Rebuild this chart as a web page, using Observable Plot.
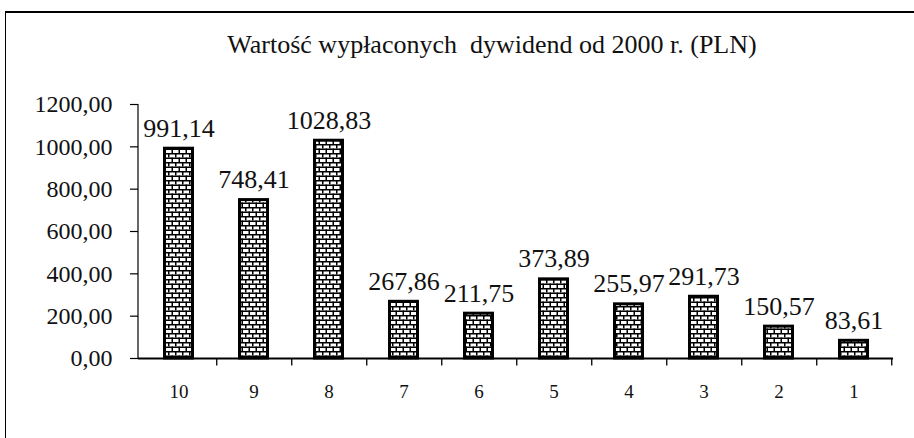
<!DOCTYPE html>
<html>
<head>
<meta charset="utf-8">
<script src="https://cdn.jsdelivr.net/npm/d3@7"></script>
<script src="https://cdn.jsdelivr.net/npm/@observablehq/plot@0.6"></script>
<style>
  html, body { margin: 0; padding: 0; background: #fff; }
  #wrap { position: relative; width: 914px; height: 438px; overflow: hidden; font-family: "Liberation Serif", "Times New Roman", serif; }
  #frame { position: absolute; left: 5px; top: 11px; width: 920px; height: 440px; border-top: 2px solid #000; border-left: 1px solid #000; }
  #title { position: absolute; left: 0; width: 984px; top: 30px; text-align: center; font-size: 26px; color: #111; white-space: pre; }
  #chart { position: absolute; left: 0; top: 0; }
</style>
</head>
<body>
<div id="wrap">
  <div id="frame"></div>
  <div id="title">Wartość wypłaconych  dywidend od 2000 r. (PLN)</div>
  <div id="chart"></div>
</div>
<script>
const categories = ["10", "9", "8", "7", "6", "5", "4", "3", "2", "1"];
const values = [991.14, 748.41, 1028.83, 267.86, 211.75, 373.89, 255.97, 291.73, 150.57, 83.61];
const yTicks = [0, 200, 400, 600, 800, 1000, 1200];

const data = categories.map((c, i) => ({cat: c, value: values[i]}));
const fmt = v => v.toFixed(2).replace(".", ",");

const W = 914, H = 438, mL = 138, mR = 21, mT = 104, mB = 80;
const step = (W - mL - mR) / categories.length;

const chart = Plot.plot({
  width: W,
  height: H,
  marginLeft: mL,
  marginRight: mR,
  marginTop: mT,
  marginBottom: mB,
  style: {fontFamily: "'Liberation Serif', 'Times New Roman', serif", background: "transparent", color: "#111"},
  x: {domain: categories, paddingInner: 0.59, paddingOuter: 0.295, label: null, axis: null},
  y: {domain: [0, 1200], label: null, axis: null},
  marks: [
    Plot.barY(data, {x: "cat", y: "value", fill: "url(#brick)", stroke: "#000", strokeWidth: 3, insetLeft: 1.5, insetRight: 1.5}),
    Plot.axisY({ticks: yTicks, tickFormat: fmt, tickSize: 8, tickPadding: 18, fontSize: 24, label: null, stroke: "#000", strokeWidth: 1.2}),
    Plot.axisX({tickSize: 0, tickPadding: 26, fontSize: 19, label: null}),
    Plot.ruleY([0], {stroke: "#000", strokeWidth: 2}),
    Plot.ruleX(categories, {x: d => d, y1: 0, y2: -36, dx: step / 2, stroke: "#000", strokeWidth: 1.3}),
    Plot.text(data, {x: "cat", y: "value", text: d => fmt(d.value), dy: -12, lineAnchor: "bottom", fontSize: 26, fill: "#111"})
  ]
});

// y-axis line
const svg = d3.select(chart);
svg.append("line")
  .attr("x1", mL).attr("x2", mL)
  .attr("y1", mT).attr("y2", H - mB)
  .attr("stroke", "#000").attr("stroke-width", 1.2);

// brick pattern
const defs = svg.insert("defs", ":first-child");
const pat = defs.append("pattern")
  .attr("id", "brick").attr("patternUnits", "userSpaceOnUse")
  .attr("width", 14).attr("height", 9);
pat.append("rect").attr("width", 14).attr("height", 9).attr("fill", "#fff");
pat.append("rect").attr("x", 0).attr("y", 0).attr("width", 14).attr("height", 1.5).attr("fill", "#000");
pat.append("rect").attr("x", 0).attr("y", 4.5).attr("width", 14).attr("height", 1.5).attr("fill", "#000");
pat.append("rect").attr("x", 0).attr("y", 0).attr("width", 1.5).attr("height", 4.5).attr("fill", "#000");
pat.append("rect").attr("x", 7).attr("y", 0).attr("width", 1.5).attr("height", 4.5).attr("fill", "#000");
pat.append("rect").attr("x", 3.5).attr("y", 4.5).attr("width", 1.5).attr("height", 4.5).attr("fill", "#000");
pat.append("rect").attr("x", 10.5).attr("y", 4.5).attr("width", 1.5).attr("height", 4.5).attr("fill", "#000");

document.getElementById("chart").appendChild(chart);
</script>
</body>
</html>
